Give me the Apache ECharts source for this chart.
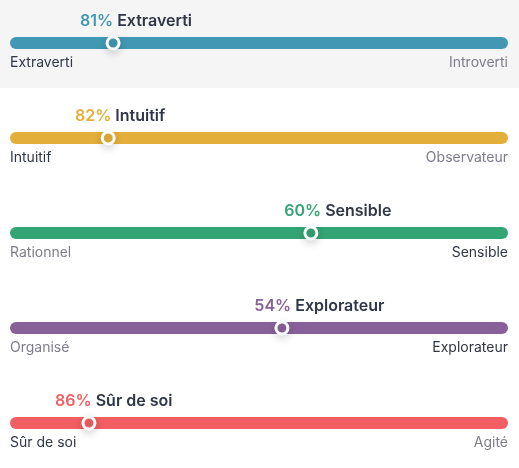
<!DOCTYPE html>
<html>
<head>
<meta charset="utf-8">
<script src="https://cdn.jsdelivr.net/npm/echarts@6/dist/echarts.min.js"></script>
<style>
  html, body { margin: 0; padding: 0; background: #fff; }
  #chart { width: 519px; height: 468px; }
</style>
</head>
<body>
<div id="chart"></div>
<script>
// données des traits
const traits = ['Extraverti', 'Intuitif', 'Sensible', 'Explorateur', 'Sûr de soi'];
const percents = [81, 82, 60, 54, 86];
const leftLabels = ['Extraverti', 'Intuitif', 'Rationnel', 'Organisé', 'Sûr de soi'];
const rightLabels = ['Introverti', 'Observateur', 'Sensible', 'Explorateur', 'Agité'];

const palette = ['#4298b4', '#e4ae3a', '#33a474', '#88619a', '#f25e62'];
const DARK = '#2f3647';
const GREY = '#7f7c8c';
const FONT = 'Inter, "Noto Sans", sans-serif';

// la piste déborde un peu de 0..100
const AXIS_MIN = -2.36;
const AXIS_MAX = 100.85;
const ROW_TOP = 37;
const ROW_STEP = 95;

const chart = echarts.init(document.getElementById('chart'), null, { renderer: 'canvas' });

const grids = [], xAxes = [], yAxes = [], series = [];

traits.forEach((trait, i) => {
  const color = palette[i];
  const leftWins = trait === leftLabels[i];
  const pos = leftWins ? 100 - percents[i] : percents[i];

  grids.push({ left: 10, right: 11, top: ROW_TOP + i * ROW_STEP, height: 12, containLabel: false });
  xAxes.push({ type: 'value', gridIndex: i, min: AXIS_MIN, max: AXIS_MAX, show: false });
  yAxes.push({ type: 'category', gridIndex: i, data: ['t'], show: false });

  // piste
  series.push({
    type: 'bar', xAxisIndex: i, yAxisIndex: i, silent: true,
    data: [AXIS_MAX], barWidth: 12,
    itemStyle: { color: 'rgba(0,0,0,0)' },
    showBackground: true,
    backgroundStyle: { color: color, borderRadius: 6 }
  });

  // libellés des extrémités
  series.push({
    type: 'scatter', xAxisIndex: i, yAxisIndex: i, silent: true, clip: false,
    symbolSize: 0,
    itemStyle: { opacity: 1 },
    data: [
      {
        value: [AXIS_MIN, 0],
        label: { show: true, position: 'bottom', align: 'left', distance: 13,
          formatter: leftLabels[i], color: leftWins ? DARK : GREY, fontSize: 14, fontFamily: FONT }
      },
      {
        value: [AXIS_MAX, 0],
        label: { show: true, position: 'bottom', align: 'right', distance: 13,
          formatter: rightLabels[i], color: leftWins ? GREY : DARK, fontSize: 14, fontFamily: FONT }
      }
    ]
  });

  // curseur + titre
  series.push({
    type: 'scatter', xAxisIndex: i, yAxisIndex: i, silent: true, clip: false,
    symbol: 'circle', symbolSize: 12, z: 5,
    itemStyle: {
      opacity: 1,
      color: color, borderColor: '#fff', borderWidth: 3,
      shadowBlur: 8, shadowColor: 'rgba(0,0,0,0.15)', shadowOffsetY: 3
    },
    label: {
      show: true, position: 'top', align: 'left', distance: 4,
      offset: [-36 + 0.156 * pos, 0],
      fontFamily: FONT, fontSize: 16, fontWeight: 600, color: DARK, lineHeight: 20,
      formatter: '{p|' + percents[i] + '%} {n|' + trait + '}',
      rich: {
        p: { color: color, fontSize: 16, fontWeight: 600, fontFamily: FONT, lineHeight: 20 },
        n: { color: DARK, fontSize: 16, fontWeight: 600, fontFamily: FONT, lineHeight: 20 }
      }
    },
    data: [[pos, 0]]
  });
});

chart.setOption({
  animation: false,
  backgroundColor: '#ffffff',
  graphic: [{
    type: 'rect', z: -10, silent: true,
    shape: { x: 0, y: 0, width: 519, height: 88 },
    style: { fill: '#f5f5f5' }
  }],
  grid: grids,
  xAxis: xAxes,
  yAxis: yAxes,
  series: series
});

window.addEventListener('resize', () => chart.resize());
</script>
</body>
</html>
